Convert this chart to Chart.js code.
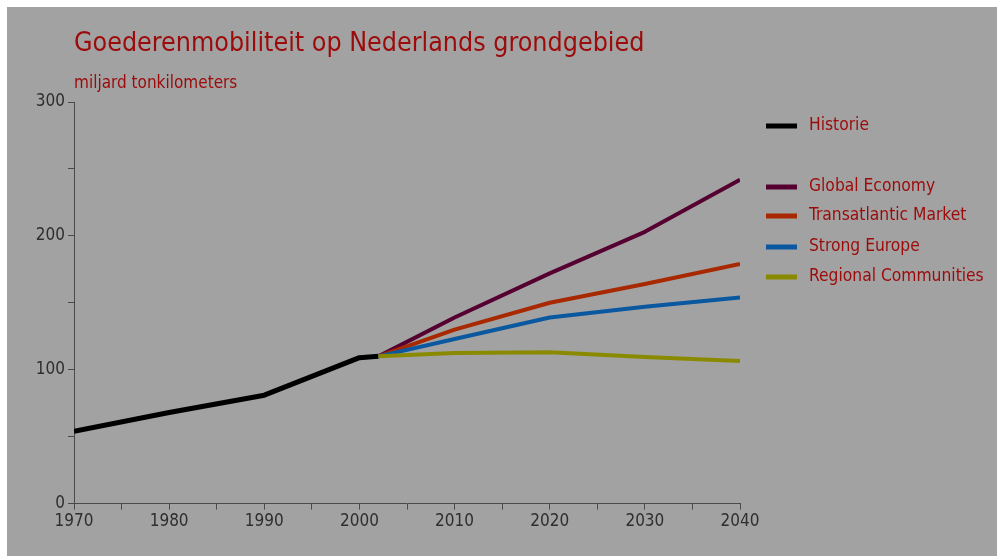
<!DOCTYPE html>
<html>
<head>
<meta charset="utf-8">
<script src="https://cdn.jsdelivr.net/npm/chart.js@4"></script>
<style>
  html,body{margin:0;padding:0;background:#fff;}
  #wrap{position:absolute;left:7px;top:7px;width:990px;height:549px;background:#a2a2a2;}
  canvas{display:block;}
</style>
</head>
<body>
<div id="wrap"><canvas id="c" width="986" height="549"></canvas></div>
<script>
// data
const histYears = [1970, 1980, 1990, 2000, 2002];
const histValues = [54, 68, 81, 109, 110];
const scenYears = [2002, 2010, 2020, 2030, 2040];
const globalEconomy = [110, 139, 172, 203, 242];
const transatlantic = [110, 130, 150, 164, 179];
const strongEurope = [110, 123, 139, 147, 154];
const regional = [110, 112.5, 113, 109.5, 106.5];
const seriesNames = ['Historie', 'Global Economy', 'Transatlantic Market', 'Strong Europe', 'Regional Communities'];

const FONT = '"Liberation Sans Narrow", "DejaVu Sans Condensed", "Open Sans", sans-serif';
const RED = '#9c0a0a';

const pts = (xs, ys) => xs.map((x, i) => ({x, y: ys[i]}));
const ds = (label, xs, ys, color, w, order) => ({
  label, data: pts(xs, ys), borderColor: color, backgroundColor: color,
  borderWidth: w, pointRadius: 0, tension: 0, order, borderJoinStyle: 'round'
});

// titles + legend drawn by hand
const extras = {
  id: 'extras',
  afterDraw(chart){
    const {ctx, chartArea} = chart;
    ctx.save();
    ctx.fillStyle = RED;
    ctx.textBaseline = 'alphabetic';
    ctx.font = '26.6px ' + FONT;
    ctx.fillText('Goederenmobiliteit op Nederlands grondgebied', chartArea.left, 44);
    ctx.font = '17px ' + FONT;
    ctx.fillText('miljard tonkilometers', chartArea.left, 81);
    // legend
    const rows = [119, 180, 209, 240, 270];
    chart.data.datasets.forEach((d, i) => {
      const y = rows[i];
      ctx.strokeStyle = d.borderColor;
      ctx.lineWidth = 5;
      ctx.beginPath(); ctx.moveTo(759, y); ctx.lineTo(790, y); ctx.stroke();
      ctx.fillStyle = RED;
      ctx.font = '17.3px ' + FONT;
      ctx.textBaseline = 'middle';
      ctx.fillText(d.label, 802, y);
    });
    ctx.restore();
  }
};

new Chart(document.getElementById('c'), {
  type: 'line',
  data: {
    datasets: [
      ds(seriesNames[0], histYears, histValues, '#000000', 5, 5),
      ds(seriesNames[1], scenYears, globalEconomy, '#560032', 4, 4),
      ds(seriesNames[2], scenYears, transatlantic, '#a82800', 4, 3),
      ds(seriesNames[3], scenYears, strongEurope, '#0a58a0', 4, 2),
      ds(seriesNames[4], scenYears, regional, '#8a8a00', 4, 1)
    ]
  },
  options: {
    responsive: false,
    animation: false,
    layout: {padding: {top: 95, right: 253, bottom: 22, left: 0}},
    plugins: {legend: {display: false}, tooltip: {enabled: false}},
    scales: {
      x: {
        type: 'linear', min: 1970, max: 2040,
        border: {color: '#4a4a4a', width: 1},
        grid: {drawOnChartArea: false, color: '#4a4a4a', tickLength: 6},
        ticks: {stepSize: 5, color: '#2e2e2e', font: {family: FONT, size: 17}, padding: 2,
          maxRotation: 0, autoSkip: false,
          callback: v => v % 10 === 0 ? String(v) : ''}
      },
      y: {
        min: 0, max: 300,
        border: {color: '#4a4a4a', width: 1},
        grid: {drawOnChartArea: false, color: '#4a4a4a', tickLength: 6},
        afterFit(s){ s.width = 67; },
        ticks: {stepSize: 50, color: '#2e2e2e', font: {family: FONT, size: 17}, padding: 3,
          callback: v => v % 100 === 0 ? String(v) : ''}
      }
    }
  },
  plugins: [extras]
});
</script>
</body>
</html>
